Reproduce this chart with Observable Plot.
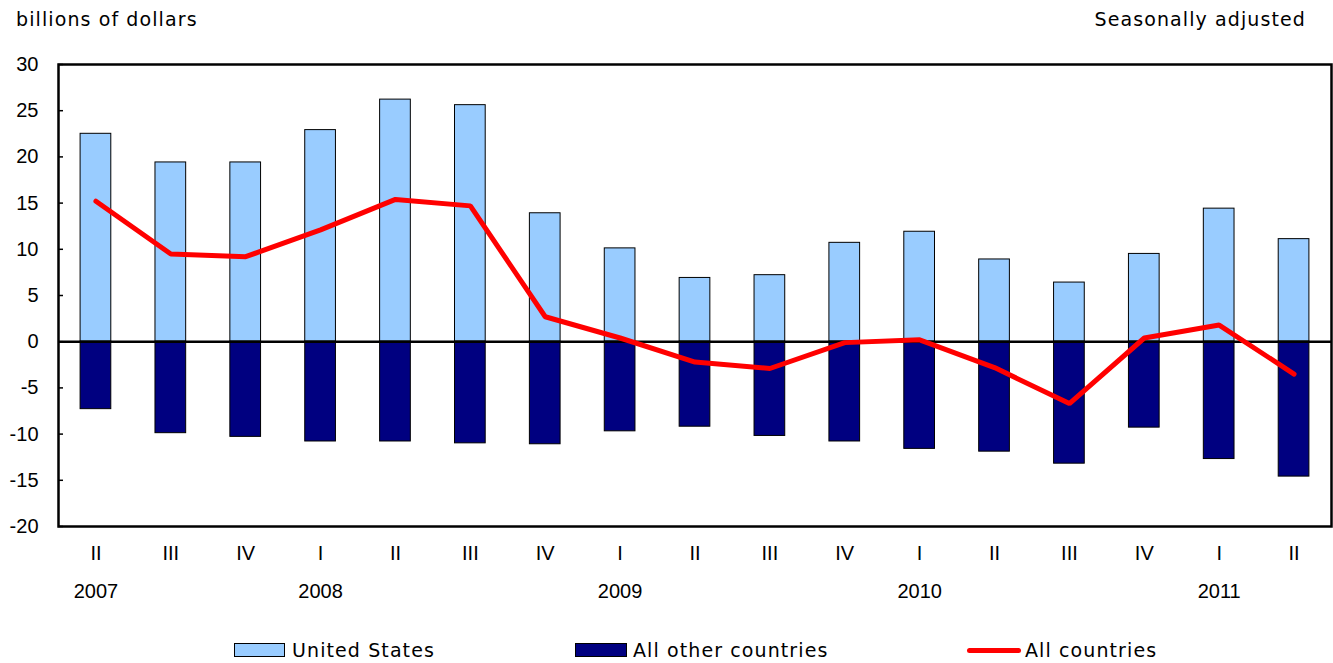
<!DOCTYPE html>
<html><head><meta charset="utf-8">
<script src="https://cdn.jsdelivr.net/npm/d3@7"></script>
<script src="https://cdn.jsdelivr.net/npm/@observablehq/plot@0.6"></script>
<style>
body{margin:0;background:#fff;}
#wrap{position:relative;width:1333px;height:663px;font-family:"DejaVu Sans",sans-serif;color:#000;}
.t{position:absolute;font-size:19px;letter-spacing:1.1px;line-height:1;white-space:nowrap;}
#chart{position:absolute;left:0;top:36px;}
.sw{position:absolute;box-sizing:border-box;border:1.5px solid #000;}
.ln{position:absolute;border-radius:3px;}
</style></head><body>
<div id="wrap">
  <div class="t" id="unit" style="left:16px;top:10px;"></div>
  <div class="t" id="adj" style="right:27px;top:10px;"></div>
  <div id="chart"></div>
  <div id="legend"></div>
</div>
<script>
const years = [2007,2007,2007,2008,2008,2008,2008,2009,2009,2009,2009,2010,2010,2010,2010,2011,2011];
const quarters = ["II","III","IV","I","II","III","IV","I","II","III","IV","I","II","III","IV","I","II"];
const unitedStates = [22.5,19.4,19.4,22.9,26.2,25.6,13.9,10.1,6.9,7.2,10.7,11.9,8.9,6.4,9.5,14.4,11.1];
const otherCountries = [-7.3,-9.9,-10.3,-10.8,-10.8,-11.0,-11.1,-9.7,-9.2,-10.2,-10.8,-11.6,-11.9,-13.2,-9.3,-12.7,-14.6];
const allCountries = [15.2,9.5,9.2,12.1,15.4,14.7,2.7,0.4,-2.2,-2.9,-0.1,0.2,-2.8,-6.7,0.4,1.8,-3.5];
const yTicks = [-20,-15,-10,-5,0,5,10,15,20,25,30];
const seriesNames = ["United States","All other countries","All countries"];
const seriesColors = ["#99CCFF","#000080","#FF0000"];
const unitLabel = "billions of dollars";
const adjLabel = "Seasonally adjusted";

document.getElementById("unit").textContent = unitLabel;
document.getElementById("adj").textContent = adjLabel;

const keys = years.map((y,i)=>y+" "+quarters[i]);
const rows = keys.map((k,i)=>({k, q:quarters[i], yr:years[i], us:unitedStates[i], oc:otherCountries[i], all:allCountries[i]}));
const firstOfYear = new Set(keys.filter((k,i)=>i===0 || years[i]!==years[i-1]));

const W = 1333, H = 590, mL = 58, mR = 2, mT = 28, mB = 100;
const chart = Plot.plot({
  width: W, height: H,
  marginLeft: mL, marginRight: mR, marginTop: mT, marginBottom: mB,
  style: {fontFamily: "'Liberation Sans', Arial, sans-serif", fontSize: "20px", color: "#000", background: "#fff"},
  x: {type: "band", domain: keys, paddingInner: 0.59, paddingOuter: 0.295, round: false, axis: null},
  y: {domain: [-20, 30], axis: null},
  marks: [
    Plot.barY(rows, {x: "k", y: "us", fill: seriesColors[0], stroke: "#000", strokeWidth: 1}),
    Plot.barY(rows, {x: "k", y: "oc", fill: seriesColors[1], stroke: "#000", strokeWidth: 1}),
    Plot.ruleY([0], {stroke: "#000", strokeWidth: 2.5}),
    Plot.line(rows, {x: "k", y: "all", stroke: seriesColors[2], strokeWidth: 5, strokeLinejoin: "miter", strokeLinecap: "round"}),
    Plot.tickY(yTicks, {y: d=>d, stroke: "#000", strokeWidth: 1.5, insetRight: W - mL - mR - 5}),
    Plot.axisY({ticks: yTicks, tickSize: 0, tickPadding: 20, tickFormat: d=>String(d), fontSize: 20, label: null}),
    Plot.axisX({tickSize: 0, tickPadding: 19, tickFormat: k=>k.split(" ")[1], fontSize: 20, label: null}),
    Plot.axisX({tickSize: 0, tickPadding: 57, tickFormat: k=>firstOfYear.has(k) ? k.split(" ")[0] : "", fontSize: 20, label: null}),
    Plot.frame({stroke: "#000", strokeWidth: 2.5})
  ]
});
document.getElementById("chart").appendChild(chart);

// legend
const wrap = document.getElementById("wrap");
const legendItems = [
  {kind:"box", sx:234, sw:51, tx:292},
  {kind:"box", sx:575, sw:52, tx:633},
  {kind:"line", sx:967, sw:54, tx:1025}
];
legendItems.forEach((it,i)=>{
  const s = document.createElement("div");
  if (it.kind === "box") {
    s.className = "sw";
    Object.assign(s.style, {left: it.sx+"px", top: "643px", width: it.sw+"px", height: "14px", background: seriesColors[i]});
  } else {
    s.className = "ln";
    Object.assign(s.style, {left: it.sx+"px", top: "648px", width: it.sw+"px", height: "5px", background: seriesColors[i]});
  }
  wrap.appendChild(s);
  const t = document.createElement("div");
  t.className = "t";
  t.textContent = seriesNames[i];
  Object.assign(t.style, {left: it.tx+"px", top: "641px"});
  wrap.appendChild(t);
});
</script>
</body></html>
